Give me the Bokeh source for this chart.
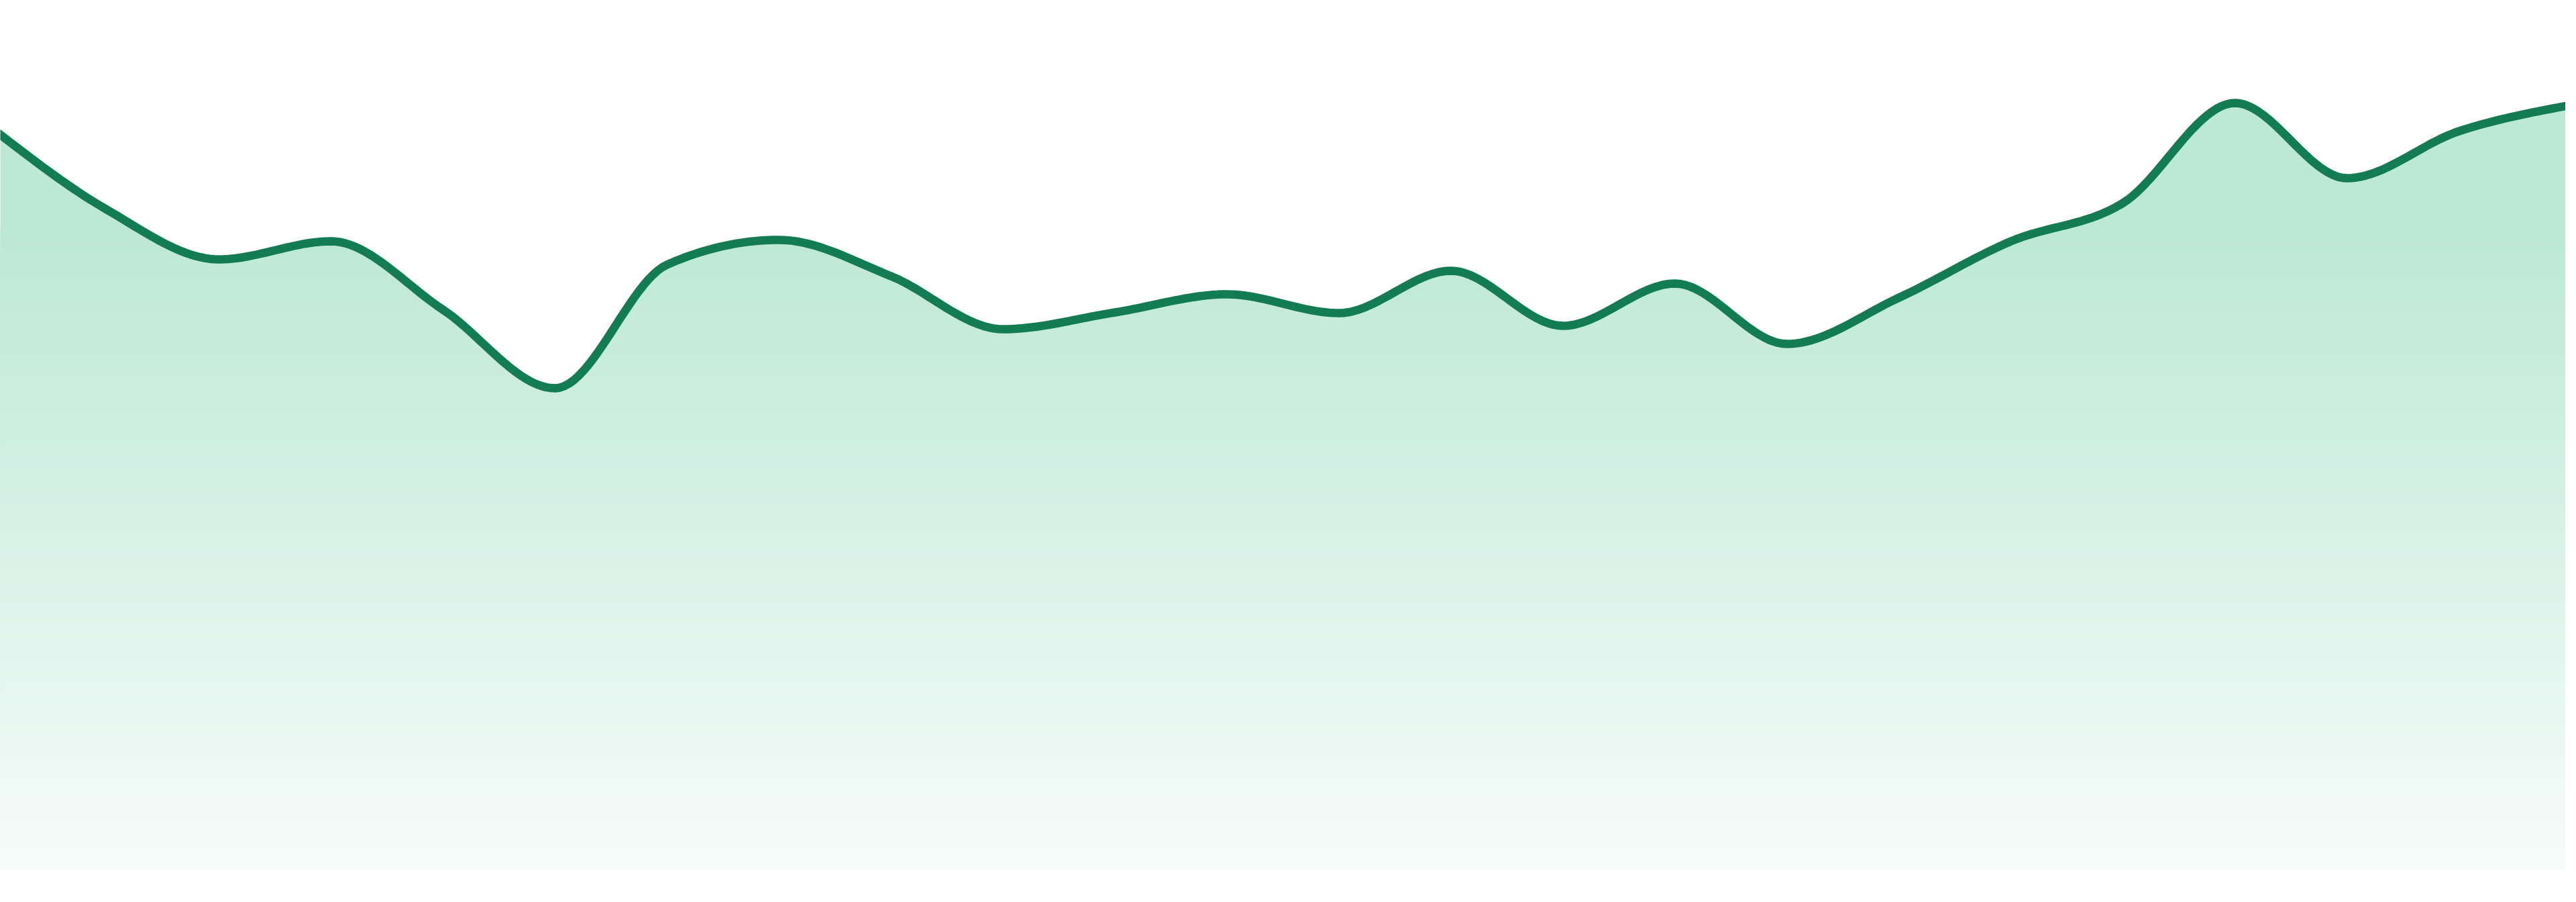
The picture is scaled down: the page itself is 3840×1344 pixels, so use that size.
import numpy as np

from bokeh.plotting import figure
from bokeh.models import Range1d
from bokeh.embed import file_html
from bokeh.resources import INLINE

# one value per point, evenly spaced along x
values = [110.1, 98.3, 90.9, 93.6, 83.4, 71.7, 90.1, 93.8, 88.4, 80.5, 83.0, 85.7,
          82.9, 89.2, 81.0, 87.3, 78.3, 85.2, 93.6, 99.3, 114.2, 103.0, 110.0, 113.9]
points = list(range(len(values)))

line_color = "#137c52"
top_color = (188, 232, 215)
bottom_color = (247, 252, 250)
solid_above = 95.4   # fill is flat colour above this value, then fades to the baseline


def monotone_curve(xs, ys, steps=24):
    # monotone cubic (same rule as d3.curveMonotoneX)
    xs = np.asarray(xs, float)
    ys = np.asarray(ys, float)
    n = len(xs)
    h = np.diff(xs)
    s = np.diff(ys) / h
    m = np.zeros(n)
    for i in range(1, n - 1):
        p = (s[i - 1] * h[i] + s[i] * h[i - 1]) / (h[i - 1] + h[i])
        m[i] = (np.sign(s[i - 1]) + np.sign(s[i])) * min(abs(s[i - 1]), abs(s[i]), 0.5 * abs(p))
    m[0] = (3 * s[0] - m[1]) / 2
    m[-1] = (3 * s[-1] - m[-2]) / 2
    out_x, out_y = [xs[0]], [ys[0]]
    t = np.linspace(0, 1, steps + 1)[1:]
    for i in range(n - 1):
        h00 = 2 * t**3 - 3 * t**2 + 1
        h10 = t**3 - 2 * t**2 + t
        h01 = -2 * t**3 + 3 * t**2
        h11 = t**3 - t**2
        yy = h00 * ys[i] + h10 * h[i] * m[i] + h01 * ys[i + 1] + h11 * h[i] * m[i + 1]
        out_x.extend(xs[i] + t * h[i])
        out_y.extend(yy)
    return np.array(out_x), np.array(out_y)


cx, cy = monotone_curve(points, values)

# the page has an 8px margin, so trim that much off each end of the x range
pad = 8 * (len(values) - 1) / 3840
p = figure(width=3824, height=1328, output_backend="svg", toolbar_location=None,
           x_range=Range1d(points[0] + pad, points[-1] - pad),
           y_range=Range1d(-3.3, 129.5),
           x_axis_type=None, y_axis_type=None, title=None,
           min_border=0)
p.grid.visible = False
p.outline_line_color = None
p.background_fill_color = "white"
p.border_fill_color = "white"

# vertical gradient under the curve: layers painted from the top down
nb = 70
p.varea(cx, y1=0, y2=cy, fill_color="rgb(%d,%d,%d)" % top_color)
for k in range(nb):
    hi = solid_above * (nb - k) / nb
    f = (k + 0.5) / nb
    col = tuple(int(round(a + (b - a) * f)) for a, b in zip(top_color, bottom_color))
    p.varea(cx, y1=0, y2=np.minimum(cy, hi), fill_color="rgb(%d,%d,%d)" % col)

p.line(cx, cy, line_color=line_color, line_width=12.5, line_join="round")

open("out.html", "w").write(file_html(p, INLINE))
